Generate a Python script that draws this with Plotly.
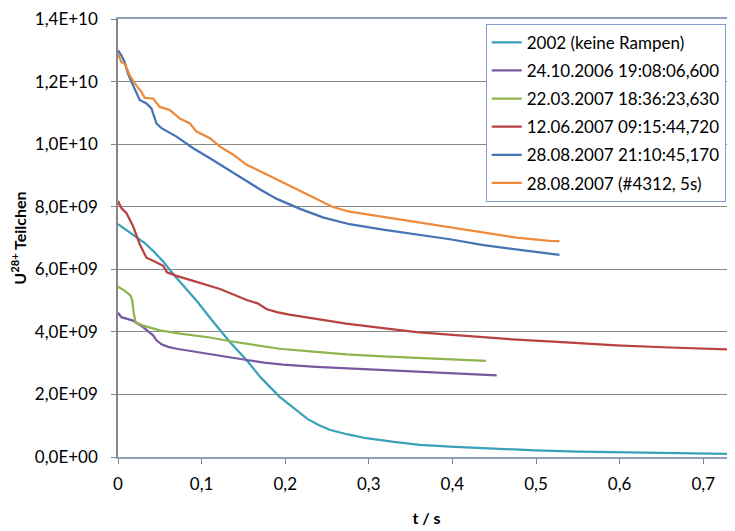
import plotly.graph_objects as go

# ---- data (values in units of 1E9 particles) ----
names = ["2002 (keine Rampen)", "24.10.2006 19:08:06,600", "22.03.2007 18:36:23,630",
         "12.06.2007 09:15:44,720", "28.08.2007 21:10:45,170", "28.08.2007 (#4312, 5s)"]
colors = ["#3BA0B9", "#7659A0", "#8FB34D", "#B8423F", "#4474B4", "#EE8A3A"]

teal_t = [0, 0.01, 0.02, 0.032, 0.042, 0.054, 0.066, 0.08, 0.095, 0.11, 0.122, 0.134, 0.154, 0.17,
          0.193, 0.21, 0.227, 0.24, 0.253, 0.275, 0.297, 0.33, 0.361, 0.397, 0.45, 0.5, 0.55, 0.596,
          0.65, 0.7, 0.738]
teal_v = [7.44, 7.26, 7.07, 6.84, 6.59, 6.25, 5.85, 5.42, 4.96, 4.45, 4.05, 3.67, 3.09, 2.56,
          1.93, 1.57, 1.21, 1.02, 0.87, 0.72, 0.60, 0.48, 0.39, 0.33, 0.26, 0.21, 0.17, 0.15,
          0.12, 0.11, 0.10]

purple_t = [0, 0.004, 0.018, 0.03, 0.042, 0.046, 0.052, 0.06, 0.07, 0.09, 0.11, 0.13, 0.154, 0.175,
            0.197, 0.237, 0.277, 0.317, 0.357, 0.40, 0.453]
purple_v = [4.61, 4.47, 4.36, 4.15, 3.89, 3.73, 3.60, 3.52, 3.46, 3.37, 3.28, 3.20, 3.10, 3.02,
            2.95, 2.88, 2.83, 2.78, 2.74, 2.68, 2.61]

green_t = [0, 0.008, 0.015, 0.017, 0.019, 0.021, 0.03, 0.05, 0.074, 0.09, 0.11, 0.134, 0.158, 0.193,
           0.237, 0.273, 0.317, 0.361, 0.40, 0.44]
green_v = [5.44, 5.32, 5.16, 5.00, 4.58, 4.31, 4.20, 4.05, 3.94, 3.88, 3.82, 3.70, 3.60, 3.46,
           3.36, 3.28, 3.22, 3.17, 3.12, 3.07]

red_t = [0, 0.004, 0.01, 0.018, 0.026, 0.034, 0.042, 0.054, 0.0586, 0.07, 0.09, 0.122, 0.154, 0.167,
         0.1775, 0.19, 0.205, 0.237, 0.273, 0.317, 0.357, 0.40, 0.477, 0.536, 0.596, 0.66, 0.738]
red_v = [8.18, 7.96, 7.80, 7.38, 6.80, 6.37, 6.27, 6.11, 5.90, 5.79, 5.63, 5.37, 5.02, 4.91,
         4.73, 4.63, 4.55, 4.42, 4.26, 4.12, 3.99, 3.90, 3.75, 3.66, 3.57, 3.50, 3.43]

blue_t = [0, 0.004, 0.008, 0.012, 0.018, 0.026, 0.034, 0.04, 0.046, 0.052, 0.07, 0.09, 0.11, 0.13,
          0.158, 0.17, 0.19, 0.217, 0.245, 0.277, 0.317, 0.357, 0.397, 0.437, 0.477, 0.516, 0.528]
blue_v = [13.0, 12.84, 12.62, 12.25, 11.88, 11.41, 11.30, 11.14, 10.66, 10.51, 10.24, 9.87, 9.55, 9.22,
          8.74, 8.55, 8.25, 7.94, 7.66, 7.44, 7.27, 7.12, 6.96, 6.77, 6.63, 6.50, 6.46]

orange_t = [0, 0.004, 0.008, 0.014, 0.02, 0.028, 0.032, 0.042, 0.05, 0.062, 0.074, 0.086, 0.094, 0.11,
            0.122, 0.138, 0.154, 0.17, 0.197, 0.237, 0.257, 0.277, 0.317, 0.357, 0.397, 0.437, 0.477,
            0.516, 0.528]
orange_v = [12.89, 12.62, 12.57, 12.20, 11.94, 11.67, 11.48, 11.46, 11.19, 11.09, 10.82, 10.66, 10.40, 10.19,
            9.92, 9.66, 9.34, 9.13, 8.76, 8.23, 7.99, 7.84, 7.67, 7.52, 7.35, 7.17, 7.01,
            6.91, 6.90]

series_t = [teal_t, purple_t, green_t, red_t, blue_t, orange_t]
series_v = [teal_v, purple_v, green_v, red_v, blue_v, orange_v]

x_tickvals = [0, 0.1, 0.2, 0.3, 0.4, 0.5, 0.6, 0.7]
x_ticktext = ["0", "0,1", "0,2", "0,3", "0,4", "0,5", "0,6", "0,7"]
y_tickvals = [0, 2e9, 4e9, 6e9, 8e9, 1e10, 1.2e10, 1.4e10]
y_ticktext = ["0,0E+00", "2,0E+09", "4,0E+09", "6,0E+09", "8,0E+09", "1,0E+10", "1,2E+10", "1,4E+10"]

fig = go.Figure()
for i, (n, c, t, v) in enumerate(zip(names, colors, series_t, series_v)):
    fig.add_trace(go.Scatter(x=t, y=[val * 1e9 for val in v], mode="lines", name=n,
                             legendgroup=f"g{i}", line=dict(color=c, width=2.25)))

# page body has an 8px margin, so the figure is 727x523 and sits at (8, 8)
fig.update_layout(
    width=727, height=523,
    margin=dict(l=110, r=0, t=11, b=74, autoexpand=False),
    plot_bgcolor="white", paper_bgcolor="white",
    font=dict(family="Lato", size=17, color="black"),
    showlegend=True,
    legend=dict(x=0.596, y=0.989, xanchor="left", yanchor="top",
                bordercolor="#7F9FCC", borderwidth=1, bgcolor="white",
                font=dict(size=17), tracegroupgap=3),
)
fig.update_xaxes(range=[0, 0.738], tickvals=x_tickvals, ticktext=x_ticktext, automargin=False,
                 showgrid=False, zeroline=False, showline=True, linecolor="#8EA0BA", linewidth=2,
                 mirror=True, ticks="outside", ticklen=5, tickcolor="#868686",
                 ticklabelstandoff=6,
                 title=dict(text="<b>t / s</b>", font=dict(size=16), standoff=19))
fig.update_yaxes(range=[0, 1.4e10], tickvals=y_tickvals, ticktext=y_ticktext, automargin=False,
                 showgrid=True, gridcolor="#878787", gridwidth=1, zeroline=False,
                 showline=True, linecolor="#868686", linewidth=1.5,
                 ticks="outside", ticklen=5, tickcolor="#868686",
                 ticklabelstandoff=10, ticklabeloverflow="allow",
                 title=dict(text="<b>U<sup>28+</sup> Teilchen</b>", font=dict(size=16), standoff=5))

fig.write_html("out.html")
